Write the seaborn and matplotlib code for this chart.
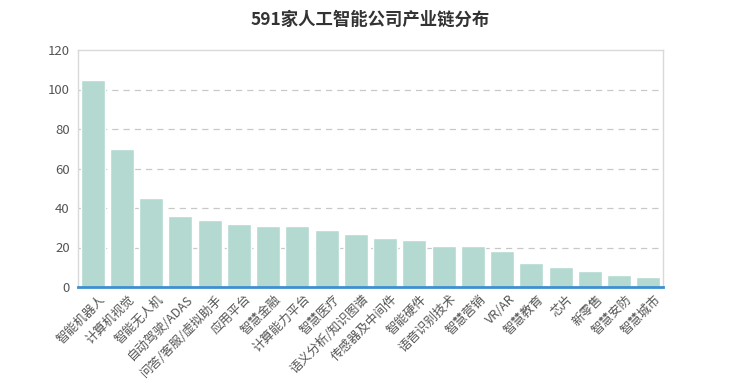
import matplotlib
matplotlib.use("Agg")
import matplotlib.pyplot as plt
import matplotlib.transforms as mtransforms
import seaborn as sns
import pandas as pd
import numpy as np
from matplotlib.ticker import FixedLocator

categories = ["智能机器人", "计算机视觉", "智能无人机", "自动驾驶/ADAS", "问答/客服/虚拟助手",
              "应用平台", "智慧金融", "计算能力平台", "智慧医疗", "语义分析/知识图谱",
              "传感器及中间件", "智能硬件", "语音识别技术", "智慧营销", "VR/AR",
              "智慧教育", "芯片", "新零售", "智慧安防", "智慧城市"]
values = [105, 70, 45, 36, 34, 32, 31, 31, 29, 27, 25, 24, 21, 21, 18, 12, 10, 8, 6, 5]
title = "591家人工智能公司产业链分布"

sns.set_theme(style="white")
plt.rcParams['font.family'] = ['Noto Sans CJK SC', 'DejaVu Sans']

df = pd.DataFrame({"cat": categories, "val": values})

fig = plt.figure(figsize=(7.4, 3.83), dpi=100)
ax = fig.add_axes([78/740, 1-287/383, (663-78)/740, (287-50)/383])
sns.barplot(data=df, x="cat", y="val", color="#b3d9d0", saturation=1, width=0.82, ax=ax, zorder=3)

ax.set_xlim(-0.5, len(categories) - 0.5)
ax.set_ylim(0, 120)
ax.set_yticks(range(0, 121, 20))
ax.set_xlabel("")
ax.set_ylabel("")

for y in range(20, 120, 20):
    ax.axhline(y, color="#c8c8c8", linestyle=(0, (5, 4)), linewidth=0.9, zorder=1)

for s in ["left", "top", "right"]:
    ax.spines[s].set_color("#d9d9d9")
    ax.spines[s].set_linewidth(1.0)
ax.spines["bottom"].set_color("#3d8fd1")
ax.spines["bottom"].set_linewidth(2.0)
ax.spines["bottom"].set_zorder(5)

ax.tick_params(axis="y", length=0, labelsize=9.5, labelcolor="#555555", pad=6)
ax.tick_params(axis="x", which="major", length=0, labelsize=9, labelcolor="#555555", pad=4)
ax.xaxis.set_minor_locator(FixedLocator(np.arange(-0.5, len(categories), 1.0)))
ax.tick_params(axis="x", which="minor", length=4, width=0.8, color="#333333", direction="out")

offset = mtransforms.ScaledTranslation(6/100, 0, fig.dpi_scale_trans)
for lab in ax.get_xticklabels():
    lab.set_rotation(45)
    lab.set_ha("right")
    lab.set_rotation_mode("anchor")
    lab.set_transform(lab.get_transform() + offset)

fig.text(0.5, 1 - 20/383, title, ha="center", va="center", fontsize=12.5,
         fontweight="bold", color="#333333")

fig.savefig("out.png", dpi=100)
